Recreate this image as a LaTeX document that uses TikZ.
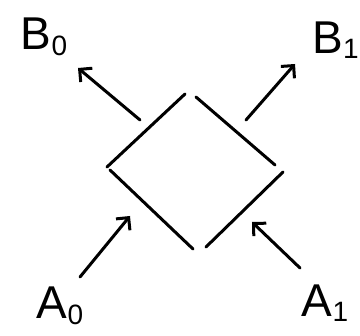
\documentclass[tikz,border=0pt]{standalone}
\usepackage{fontspec}
\setmainfont{Liberation Sans}
\usetikzlibrary{arrows.meta}
\newcommand{\lowsub}[1]{\raisebox{-0.12em}{\fontsize{28}{28}\selectfont #1}}
\begin{document}
\begin{tikzpicture}[x=1pt,y=-1pt,
  stroke/.style={line width=3pt,line cap=round,black},
  arr/.style={stroke,-{Straight Barb[length=9pt,width=18pt,line width=3pt]}},
  lbl/.style={font=\fontsize{46}{46}\selectfont,inner sep=0pt}]
\useasboundingbox (0,0) rectangle (360,336);
% diamond corners
\coordinate (L1) at (107,167);
\coordinate (T1) at (185,94);
\coordinate (T2) at (196,97);
\coordinate (R1) at (275,165);
\coordinate (R2) at (283,172);
\coordinate (Bt2) at (206,247);
\coordinate (Bt1) at (193,249);
\coordinate (L2) at (110,170);
\draw[stroke] (L1) -- (T1);
\draw[stroke] (T2) -- (R1);
\draw[stroke] (R2) -- (Bt2);
\draw[stroke] (L2) -- (Bt1);
% labels
\node[lbl] (b0) at (44,37) {B\lowsub{0}};
\node[lbl,anchor=east] (b1) at (359,40) {B\lowsub{1}};
\node[lbl] (a0) at (60,306) {A\lowsub{0}};
\node[lbl] (a1) at (325,303) {A\lowsub{1}};
% arrow endpoints
\coordinate (b0s) at (140,120);
\coordinate (b0e) at (78,68);
\coordinate (b1s) at (246,120);
\coordinate (b1e) at (295,64);
\coordinate (a0s) at (80,277);
\coordinate (a0e) at (130,216);
\coordinate (a1s) at (300,268);
\coordinate (a1e) at (252,222);
\draw[arr] (b0s) -- (b0e);
\draw[arr] (b1s) -- (b1e);
\draw[arr] (a0s) -- (a0e);
\draw[arr] (a1s) -- (a1e);
\end{tikzpicture}
\end{document}
